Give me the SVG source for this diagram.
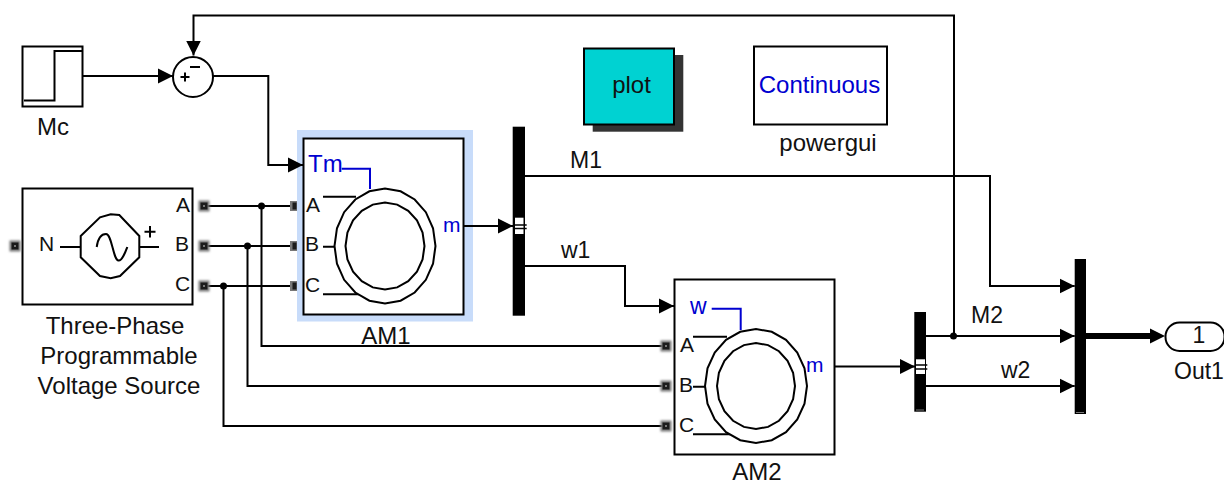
<svg xmlns="http://www.w3.org/2000/svg" width="1224" height="485" viewBox="0 0 1224 485">
<defs>
<style>
text{font-family:"Liberation Sans",Arial,sans-serif;font-size:24px;fill:#111}
.b{fill:#0000d0}
.m{text-anchor:middle}
.p{font-size:21px}
.s{font-size:23px}
.box{fill:#fff;stroke:#000;stroke-width:2}
.ln{fill:none;stroke:#000;stroke-width:2}
.bl{fill:none;stroke:#0000d0;stroke-width:2}
.ring{fill:#fff;stroke:#000;stroke-width:2;vector-effect:non-scaling-stroke}
.bus{fill:#000}
.bw{fill:#fff}
.tk{stroke:#000;stroke-width:1.500}
.gr{fill:#777}
.ph{fill:#777}
.pc{fill:#1a1a1a}
</style>
<filter id="soft" x="-50%" y="-50%" width="200%" height="200%"><feGaussianBlur stdDeviation="1.200"/></filter>
<marker id="ah" markerUnits="userSpaceOnUse" markerWidth="16" markerHeight="16" refX="15" refY="8" orient="auto"><path d="M0 0.5L15 8L0 15.500Z" fill="#000"/></marker>
<polygon id="ell" class="ring" points="1,0 .951,.309 .809,.588 .588,.809 .309,.951 0,1 -.309,.951 -.588,.809 -.809,.588 -.951,.309 -1,0 -.951,-.309 -.809,-.588 -.588,-.809 -.309,-.951 0,-1 .309,-.951 .588,-.809 .809,-.588 .951,-.309"/>
<g id="pm"><rect class="ph" x="-5.500" y="-5.500" width="11" height="11" filter="url(#soft)"/><rect class="pc" x="-3.500" y="-3.500" width="7" height="7"/><rect class="gr" x="-1" y="-1" width="2" height="2"/></g>
</defs>
<g id="Mc">
<rect class="box" x="22.500" y="46.500" width="60" height="60"/>
<path class="ln" d="M24 100.500H54.500V51H82"/>
<text class="m" x="53" y="135">Mc</text>
</g>
<g id="Sum">
<circle class="box" cx="193" cy="77" r="20"/>
<path class="ln" d="M180.500 77H189.500M185 72.500V81.500M190 67H200"/>
</g>
<g id="Source">
<rect class="box" x="22.500" y="188.500" width="170" height="116"/>
<polygon class="box" points="80.700,236 100,217.300 110.700,214.300 119.300,215 139.300,236 139.300,257.300 120,276 110.700,278.300 100,276 80.700,257.300"/>
<path class="ln" d="M60 247H80.700M139.300 247H159M144.500 231.700H155.500M150 226V237.500"/>
<path class="ln" d="M96.700 247C98 238 102 234 106 234C112 234 113 260 118.500 260.500C122 261 125 253 127.300 247"/>
<text class="p" x="39" y="251">N</text>
<text class="p" x="176" y="212">A</text>
<text class="p" x="175" y="251">B</text>
<text class="p" x="175" y="291">C</text>
<text class="m" x="115" y="334">Three-Phase</text>
<text class="m" x="119" y="364">Programmable</text>
<text class="m" x="119" y="394">Voltage Source</text>
</g>
<g id="AM1">
<rect x="297" y="130" width="176" height="191.500" fill="#c8dcfa"/>
<rect class="box" x="303.500" y="138.500" width="160" height="176"/>
<path class="bl" d="M341.700 168.700H370V189"/>
<path class="ln" d="M323 196.700H356M323 246.700H334M323 294.300H360"/>
<use href="#ell" transform="translate(385 246) scale(50.500 57.500)"/>
<use href="#ell" transform="translate(385 246) scale(39.500 43.500)"/>
<text class="b" x="308" y="172">Tm</text>
<text class="p" x="306" y="212">A</text>
<text class="p" x="305" y="251">B</text>
<text class="p" x="305" y="292">C</text>
<text class="b p" x="443" y="232">m</text>
<text class="m" x="386" y="344">AM1</text>
</g>
<g id="Bus1">
<rect class="bus" x="512.700" y="126.700" width="12.300" height="189"/>
<rect class="bw" x="515" y="217.700" width="8.500" height="16.300"/>
<path class="tk" d="M515 225H526.700M515 228.500H526.700"/>
</g>
<g id="plot">
<rect x="592.700" y="55" width="90.600" height="76.700" fill="#333"/>
<rect x="584" y="48.500" width="90" height="76" fill="#00d2d2" stroke="#000" stroke-width="2"/>
<text class="m" x="631.500" y="93">plot</text>
</g>
<g id="powergui">
<rect class="box" x="754" y="46.500" width="133" height="78"/>
<text class="b m" x="819.500" y="93">Continuous</text>
<text class="m" x="828" y="151">powergui</text>
</g>
<g id="AM2">
<rect class="box" x="674.500" y="279.500" width="160" height="175"/>
<path class="bl" d="M711.700 308.700H740.700V330"/>
<path class="ln" d="M693 336.700H727M693 386.700H705M693 434.300H730"/>
<use href="#ell" transform="translate(756 386) scale(51 57)"/>
<use href="#ell" transform="translate(756 386) scale(39 43)"/>
<text class="b s" x="690" y="314">w</text>
<text class="p" x="680" y="352">A</text>
<text class="p" x="679" y="392">B</text>
<text class="p" x="679" y="432">C</text>
<text class="b p" x="806" y="372">m</text>
<text class="m" x="757" y="480">AM2</text>
</g>
<g id="Bus2">
<rect class="bus" x="914.300" y="312" width="11.700" height="99.700"/>
<rect class="gr" x="916" y="409.500" width="8" height="1"/>
<rect class="bw" x="916" y="359.300" width="9" height="14.700"/>
<path class="tk" d="M916 365H927.300M916 369H927.300"/>
</g>
<g id="Bus3">
<rect class="bus" x="1074.700" y="259" width="11.300" height="155"/>
<rect class="gr" x="1076" y="412" width="8" height="1"/>
</g>
<g id="Out1">
<rect class="box" x="1165.500" y="322.500" width="59" height="28.500" rx="14"/>
<text class="m s" x="1199" y="343">1</text>
<text class="s" x="1174" y="379">Out1</text>
</g>
<g id="connectors">
<path class="ln" d="M83 76H173" marker-end="url(#ah)"/>
<path class="ln" d="M954 336V15.500H193.500V55.500" marker-end="url(#ah)"/>
<path class="ln" d="M213 76H268.300V165H303" marker-end="url(#ah)"/>
<path class="ln" d="M204 206H296.500M204 246H296.500M204 286H296.500"/>
<path class="ln" d="M261.500 206V346H666M247.500 246V386H666M223.500 286V426H666"/>
<path class="ln" d="M464 226H513" marker-end="url(#ah)"/>
<path class="ln" d="M525 176H990V286H1074.700" marker-end="url(#ah)"/>
<path class="ln" d="M525 266H625V306H674" marker-end="url(#ah)"/>
<path class="ln" d="M835 366.500H915" marker-end="url(#ah)"/>
<path class="ln" d="M926 336H1074.700" marker-end="url(#ah)"/>
<path class="ln" d="M926 386H1074.700" marker-end="url(#ah)"/>
<path d="M1086 336H1151" fill="none" stroke="#000" stroke-width="6"/>
<path d="M1150 328.500L1165 336L1150 343.500Z" fill="#000"/>
<circle cx="261.500" cy="206" r="3.500"/><circle cx="247.500" cy="246" r="3.500"/><circle cx="223.500" cy="286" r="3.500"/><circle cx="953.500" cy="336" r="3.500"/>
<use href="#pm" x="204" y="206"/><use href="#pm" x="204" y="246"/><use href="#pm" x="204" y="286"/>
<g><rect class="ph" x="290" y="201" width="7" height="10"/><rect class="ph" x="290" y="241" width="7" height="10"/><rect class="ph" x="290" y="281" width="7" height="10"/><rect class="pc" x="292.500" y="202.500" width="4" height="7"/><rect class="pc" x="292.500" y="242.500" width="4" height="7"/><rect class="pc" x="292.500" y="282.500" width="4" height="7"/></g>
<use href="#pm" x="666" y="346"/><use href="#pm" x="666" y="386"/><use href="#pm" x="666" y="426"/>
<use href="#pm" x="15" y="246"/>
<text class="s" x="570" y="168">M1</text>
<text class="s" x="561" y="258">w1</text>
<text class="s" x="971" y="323">M2</text>
<text class="s" x="1001" y="378">w2</text>
</g>
</svg>
